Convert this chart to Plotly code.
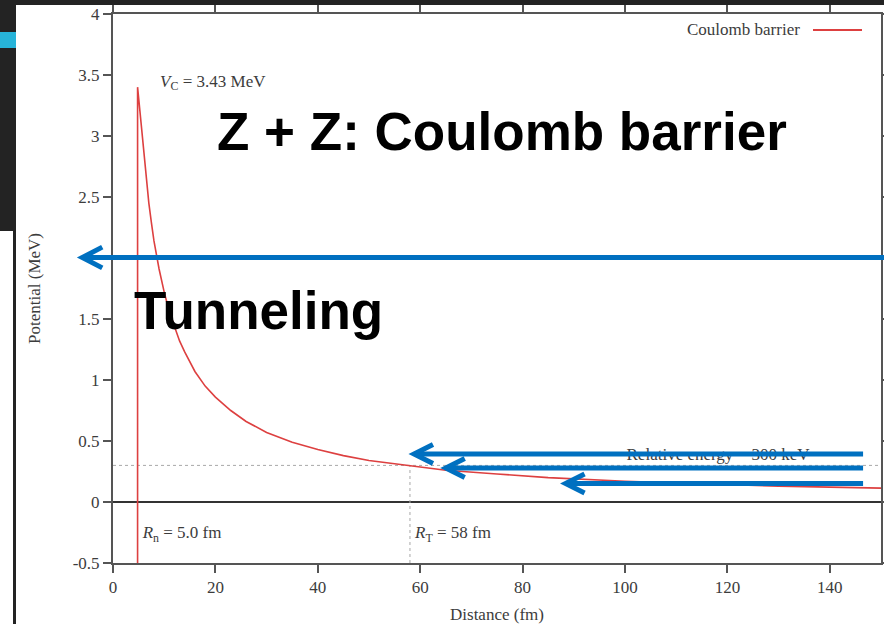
import plotly.graph_objects as go

# ---------------- data ----------------
distance_fm = [4.8, 4.8, 5.5, 6.0, 6.5, 7.0, 7.5, 8.0, 9.0, 10.0, 11.0, 12.0, 13.0, 14.0,
               16.0, 18.0, 20.0, 23.0, 26.0, 30.0, 35.0, 40.0, 45.0, 50.0, 58.0, 65.0,
               75.0, 85.0, 100.0, 115.0, 130.0, 150.0]
potential_mev = [-0.5, 3.40, 3.10, 2.86, 2.64, 2.45, 2.29, 2.14, 1.91, 1.72, 1.56, 1.43,
                 1.32, 1.23, 1.07, 0.95, 0.86, 0.75, 0.66, 0.57, 0.49, 0.43, 0.38, 0.34,
                 0.30, 0.26, 0.23, 0.20, 0.17, 0.15, 0.13, 0.114]
relative_energy_mev = 0.3
turning_point_fm = 58.0
series_name = "Coulomb barrier"

x_tick_vals = [0, 20, 40, 60, 80, 100, 120, 140]
x_tick_text = ["0", "20", "40", "60", "80", "100", "120", "140"]
y_tick_vals = [-0.5, 0, 0.5, 1, 1.5, 2, 2.5, 3, 3.5, 4]
y_tick_text = ["-0.5", "0", "0.5", "1", "1.5", "", "2.5", "3", "3.5", "4"]

# ---------------- layout geometry ----------------
W, H = 884, 624
L, R, T, B = 113, 3, 14, 61
PW, PH = W - L - R, H - T - B
XR = [0, 150]
YR = [-0.5, 4]

def dx(x):  # data x -> paper
    return (x - XR[0]) / (XR[1] - XR[0])

def dy(y):  # data y -> paper
    return (y - YR[0]) / (YR[1] - YR[0])

def fx(p):  # pixel x -> paper
    return (p - L) / PW

def fy(p):  # pixel y -> paper
    return (H - B - p) / PH

SERIF = "Liberation Serif"
TXT = "#3c3c3c"
AX = "#555555"
RED = "#dd4040"
BLUE = "#0070C0"

fig = go.Figure()

# dotted guide lines
fig.add_trace(go.Scatter(x=[XR[0], XR[1]], y=[relative_energy_mev, relative_energy_mev],
                         mode="lines", line=dict(color="#a8a8a8", width=1, dash="dot"),
                         hoverinfo="skip", showlegend=False))
fig.add_trace(go.Scatter(x=[turning_point_fm, turning_point_fm], y=[YR[0], relative_energy_mev],
                         mode="lines", line=dict(color="#a8a8a8", width=1, dash="dot"),
                         hoverinfo="skip", showlegend=False))

# Coulomb barrier curve
fig.add_trace(go.Scatter(x=distance_fm, y=potential_mev, mode="lines", name=series_name,
                         line=dict(color=RED, width=1.6), showlegend=False))

# in-chart labels (as text traces so overlays can sit above them)
labels = [
    (9.2, 3.44, "<i>V</i><sub>C</sub> = 3.43 MeV"),
    (5.8, -0.26, "<i>R</i><sub>n</sub> = 5.0 fm"),
    (59.0, -0.26, "<i>R</i><sub>T</sub> = 58 fm"),
    (100.3, 0.38, "Relative energy = 300 keV"),
]
fig.add_trace(go.Scatter(x=[l[0] for l in labels], y=[l[1] for l in labels],
                         text=[l[2] for l in labels], mode="text",
                         textposition="middle right",
                         textfont=dict(family=SERIF, size=17, color=TXT),
                         hoverinfo="skip", showlegend=False))

shapes = []
annotations = []

# legend drawn gnuplot-style (text then sample line)
annotations.append(dict(x=fx(802), y=fy(30), xref="paper", yref="paper", text=series_name,
                        showarrow=False, xanchor="right", yanchor="middle",
                        font=dict(family=SERIF, size=17, color=TXT)))
shapes.append(dict(type="line", xref="paper", yref="paper", x0=fx(813), x1=fx(862),
                   y0=fy(30), y1=fy(30), line=dict(color=RED, width=2)))

# blue arrows (data coordinates: tip x, y, tail x, head dx, head dy)
arrows = [
    (-6.0, 2.004, 152.0, 3.9, 0.085),
    (58.8, 0.393, 146.5, 3.7, 0.078),
    (65.0, 0.279, 146.5, 3.7, 0.078),
    (88.4, 0.152, 146.5, 3.7, 0.078),
]
for tip, yy, tail, hx, hy in arrows:
    shapes.append(dict(type="line", xref="paper", yref="paper",
                       x0=dx(tip + 0.5), x1=dx(tail), y0=dy(yy), y1=dy(yy),
                       line=dict(color=BLUE, width=5)))
    shapes.append(dict(type="path", xref="paper", yref="paper",
                       path=f"M {dx(tip + hx)},{dy(yy + hy)} L {dx(tip)},{dy(yy)} L {dx(tip + hx)},{dy(yy - hy)}",
                       line=dict(color=BLUE, width=5)))

# slide frame pieces
DARK = "#232323"
frame = [
    (0, 0, W, 5, DARK),
    (0, 0, 16, 231, DARK),
    (13, 231, 16, H, DARK),
    (0, 32, 16, 48, "#27b4d9"),
]
for x0, y0, x1, y1, c in frame:
    shapes.append(dict(type="rect", xref="paper", yref="paper",
                       x0=fx(x0), x1=fx(x1), y0=fy(y1), y1=fy(y0),
                       fillcolor=c, line=dict(width=0), layer="above"))

# slide overlay titles
annotations.append(dict(x=fx(502), y=fy(131), xref="paper", yref="paper",
                        text="<b>Z + Z: Coulomb barrier</b>", showarrow=False,
                        xanchor="center", yanchor="middle",
                        font=dict(family="Liberation Sans", size=53, color="#000000")))
annotations.append(dict(x=fx(132), y=fy(311), xref="paper", yref="paper",
                        text="<b>Tunneling</b>", showarrow=False,
                        xanchor="left", yanchor="middle",
                        font=dict(family="Liberation Sans", size=53, color="#000000")))

axis_common = dict(showline=True, linecolor=AX, linewidth=2, mirror="ticks",
                   ticks="outside", ticklen=8, tickwidth=2, tickcolor=AX,
                   showgrid=False, automargin=False,
                   tickfont=dict(family=SERIF, size=17, color=TXT))

fig.update_layout(
    width=W, height=H,
    margin=dict(l=L, r=R, t=T, b=B, autoexpand=False),
    paper_bgcolor="white", plot_bgcolor="white",
    xaxis=dict(range=XR, tickvals=x_tick_vals, ticktext=x_tick_text, zeroline=False,
               title=dict(text="Distance (fm)", font=dict(family=SERIF, size=17, color=TXT),
                          standoff=13),
               **axis_common),
    yaxis=dict(range=YR, tickvals=y_tick_vals, ticktext=y_tick_text,
               zeroline=True, zerolinecolor="#333333", zerolinewidth=2,
               title=dict(text="Potential (MeV)", font=dict(family=SERIF, size=17, color=TXT),
                          standoff=28),
               **axis_common),
    shapes=shapes,
    annotations=annotations,
    showlegend=False,
)

fig.write_html("out.html")
